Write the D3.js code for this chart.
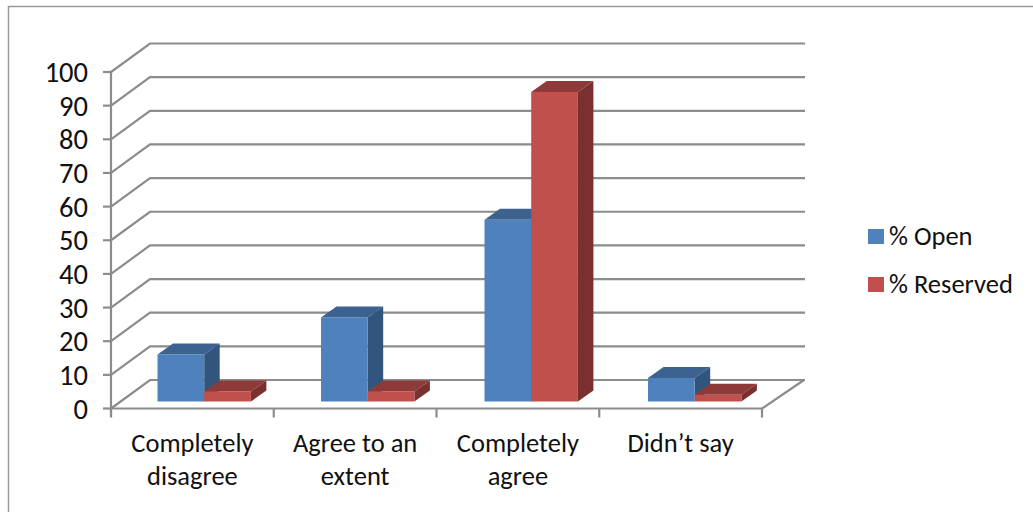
<!DOCTYPE html>
<html><head><meta charset="utf-8">
<script src="https://cdn.jsdelivr.net/npm/d3@7/dist/d3.min.js"></script>
<style>html,body{margin:0;padding:0;background:#fff}svg{display:block}text{font-family:Carlito,Lato,"Open Sans",sans-serif;fill:#111}</style>
</head><body><svg id="c" width="1033" height="512"></svg>
<script>
const categories = [["Completely","disagree"],["Agree to an","extent"],["Completely","agree"],["Didn’t say"]];
const openValues = [14, 25, 54, 7];
const reservedValues = [3, 3, 92, 2];
const yTicks = [0,10,20,30,40,50,60,70,80,90,100];
const seriesNames = ["% Open","% Reserved"];
const seriesColors = [{front:"#4f81bd",top:"#3c6390",side:"#32557d"},{front:"#c0504d",top:"#8e3a38",side:"#7a302e"}];

const svg = d3.select("#c");
const W = 1033, H = 512;
const x = d3.scaleBand().domain(d3.range(categories.length)).range([111,762]);
const xBars = d3.scaleBand().domain(d3.range(categories.length)).range([110.5,764.5]);
const y = d3.scaleLinear().domain([0,100]).range([408.5,72]);
const wall = {dx:39, dy:-28.5};
const depth = {dx:15.5, dy:-11};
const barInset = {dx:0, dy:-7};
const grey = "#8c8c8c";

svg.append("path").attr("d",`M8.5,${H} V6.5 H${W}`).attr("fill","none").attr("stroke","#9a9a9a").attr("stroke-width",1.5);

// walls
const g = svg.append("g").attr("fill","none").attr("stroke",grey).attr("stroke-width",2.2);
yTicks.forEach(t=>{
  const p = [[x.range()[0],y(t)],[x.range()[0]+wall.dx,y(t)+wall.dy],[805,y(t)+wall.dy]];
  g.append("path").attr("d",d3.line()(p));
  g.append("line").attr("x1",103).attr("x2",111).attr("y1",y(t)).attr("y2",y(t));
});
g.append("line").attr("x1",111).attr("x2",111).attr("y1",y(100)).attr("y2",y(0)+8);
g.append("line").attr("x1",111).attr("x2",762).attr("y1",y(0)).attr("y2",y(0));
g.append("path").attr("d",d3.line()([[762,y(0)],[762+wall.dx+3,y(0)+wall.dy]]));
d3.range(categories.length+1).forEach(i=>{
  const tx = i<categories.length? x(i): x.range()[1];
  g.append("line").attr("x1",tx).attr("x2",tx).attr("y1",y(0)).attr("y2",y(0)+9);
});

// bars
const barW = 46.7;
const barOff = 47;
const bars = svg.append("g");
function bar(cat, sIdx, v){
  const c = seriesColors[sIdx];
  const x0 = xBars(cat)+barOff+sIdx*barW, x1 = x0+barW;
  const yb = y(0)+barInset.dy, yt = y(v)+barInset.dy;
  const b = bars.append("g");
  b.append("path").attr("fill",c.top).attr("d",d3.line()([[x0,yt],[x0+depth.dx,yt+depth.dy],[x1+depth.dx,yt+depth.dy],[x1,yt]])+"Z");
  b.append("path").attr("fill",c.side).attr("d",d3.line()([[x1,yt],[x1+depth.dx,yt+depth.dy],[x1+depth.dx,yb+depth.dy],[x1,yb]])+"Z");
  b.append("rect").attr("fill",c.front).attr("x",x0).attr("y",yt).attr("width",barW).attr("height",yb-yt);
}
categories.forEach((_,i)=>{ bar(i,0,openValues[i]); bar(i,1,reservedValues[i]); });

// labels
const fs = 26.5;
yTicks.forEach(t=>{
  svg.append("text").attr("x",88).attr("y",y(t)+10).attr("text-anchor","end").attr("font-size",28.5).text(t);
});
categories.forEach((lines,i)=>{
  lines.forEach((l,j)=>{
    svg.append("text").attr("x",x(i)+x.bandwidth()/2).attr("y",452+j*33).attr("text-anchor","middle").attr("font-size",fs).text(l);
  });
});
// legend
seriesNames.forEach((n,i)=>{
  const ly = 229+i*48;
  svg.append("rect").attr("x",868).attr("y",ly).attr("width",16).attr("height",15).attr("fill",seriesColors[i].front);
  svg.append("text").attr("x",889).attr("y",ly+16).attr("font-size",fs).text(n);
});
</script></body></html>
